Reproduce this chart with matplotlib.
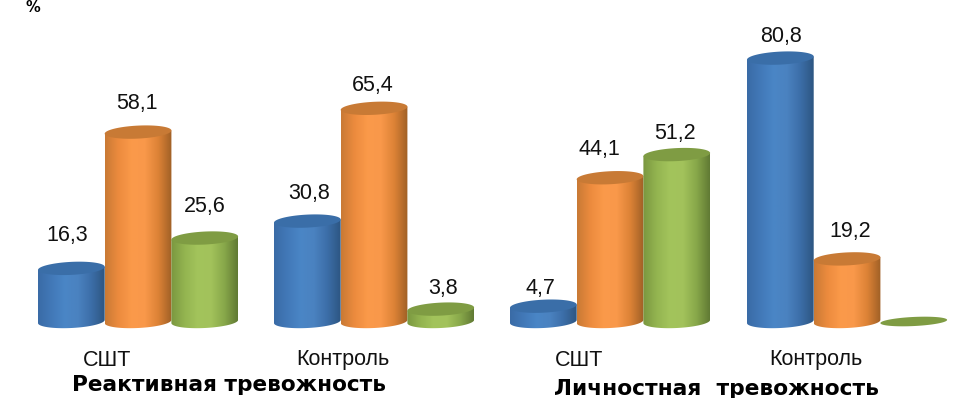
import numpy as np
import matplotlib
matplotlib.use("Agg")
import matplotlib.pyplot as plt
from matplotlib.colors import LinearSegmentedColormap
from matplotlib.patches import Polygon

plt.rcParams["font.family"] = ["Liberation Sans", "DejaVu Sans"]

# данные
groups = ["СШТ", "Контроль", "СШТ", "Контроль"]
blue_vals = [16.3, 30.8, 4.7, 80.8]
orange_vals = [58.1, 65.4, 44.1, 19.2]
green_vals = [25.6, 3.8, 51.2, 0.0]
value_labels = [
    ["16,3", "58,1", "25,6"],
    ["30,8", "65,4", "3,8"],
    ["4,7", "44,1", "51,2"],
    ["80,8", "19,2", ""],
]
section_titles = ["Реактивная тревожность", "Личностная  тревожность"]
unit_label = "%"

# оформление (x в пикселях картинки)
group_left = [38, 274, 510, 747]
bar_w = 66.7
ppu = 3.26           # пикселей на единицу шкалы
base_px = 321.5
ell_h = 13 / ppu
shear = 1.6 / ppu    # эллипсы слегка наклонены вверх вправо
label_gap = [        # отступ подписи над столбиком, px
    [33, 29, 32],
    [28, 23, 21],
    [18, 28, 21],
    [22, 27, 0],
]
label_dx = [         # сдвиг подписи от центра столбика, px
    [-4, -1, 0],
    [2, -1.5, 2],
    [-3, -11, -1.5],
    [1, 3.5, 0],
]

side_colors = [
    ["#3a6ba6", "#4279b8", "#4a86c6", "#4a82c0", "#3c6ea8", "#2d5682"],
    ["#c97a35", "#ec8b3e", "#fb9a4a", "#f9984a", "#dc8236", "#a06026"],
    ["#7a9740", "#93b450", "#a3c45c", "#a2c25b", "#88a84a", "#617a34"],
]
top_colors = ["#3a6ea8", "#c87a35", "#7f9c43"]


def y_px(px):
    return (base_px - px) / ppu


def ell_xy(xm, yc, t, h):
    # точки наклонного эллипса: центр (xm, yc), параметр t
    return xm + bar_w / 2 * np.cos(t), yc + h / 2 * np.sin(t) + shear * np.cos(t)


fig = plt.figure(figsize=(9.6, 3.98), dpi=100)
ax = fig.add_axes([0, 0, 1, 1])


def cylinder(x0, val, c, z):
    xm = x0 + bar_w / 2
    tt = np.linspace(0, 2 * np.pi, 120)
    if val <= 0:
        # нулевой столбик: только плоский эллипс
        ex, ey = ell_xy(xm, 0, tt, ell_h * 0.7)
        ax.add_patch(Polygon(np.c_[ex, ey], fc=top_colors[c], ec="none", zorder=z))
        return
    t = np.linspace(np.pi, 2 * np.pi, 60)
    bx, by = ell_xy(xm, 0, t, ell_h)
    verts = np.vstack([np.c_[bx, by], [[x0 + bar_w, val + shear], [x0, val - shear]]])
    clip = Polygon(verts, fc="none", ec="none", transform=ax.transData)
    ax.add_patch(clip)
    cmap = LinearSegmentedColormap.from_list("side", side_colors[c])
    grad = np.linspace(0, 1, 128)[None, :]
    im = ax.imshow(grad, extent=[x0, x0 + bar_w, -ell_h, val + ell_h], cmap=cmap, aspect="auto",
                   zorder=z, interpolation="bilinear")
    im.set_clip_path(clip)
    ex, ey = ell_xy(xm, val, tt, ell_h)
    ax.add_patch(Polygon(np.c_[ex, ey], fc=top_colors[c], ec="none", zorder=z + 0.5))


series = [blue_vals, orange_vals, green_vals]
for g, left in enumerate(group_left):
    for s in range(3):
        x0 = left + s * bar_w
        val = series[s][g]
        cylinder(x0, val, s, 2 + s)
        if value_labels[g][s]:
            ax.text(x0 + bar_w / 2 + label_dx[g][s], val + label_gap[g][s] / ppu, value_labels[g][s],
                    ha="center", va="center", fontsize=15.5, color="#111111", zorder=10)
    ax.text(left + 69, y_px(360), groups[g], ha="center", va="center", fontsize=15.5,
            color="#111111")

ax.set_xlim(0, 960)
ax.set_ylim(y_px(398), y_px(0))
ax.axis("off")

ax.text(229, y_px(385), section_titles[0], ha="center", va="center", fontsize=15.6,
        fontweight="bold", color="black", family="DejaVu Sans")
ax.text(716, y_px(389), section_titles[1], ha="center", va="center", fontsize=15.7,
        fontweight="bold", color="black", family="DejaVu Sans")
ax.text(33, y_px(7.5), unit_label, ha="center", va="center", fontsize=10.5,
        fontweight="bold", color="black", family="DejaVu Sans")

fig.savefig("out.png", dpi=100)
